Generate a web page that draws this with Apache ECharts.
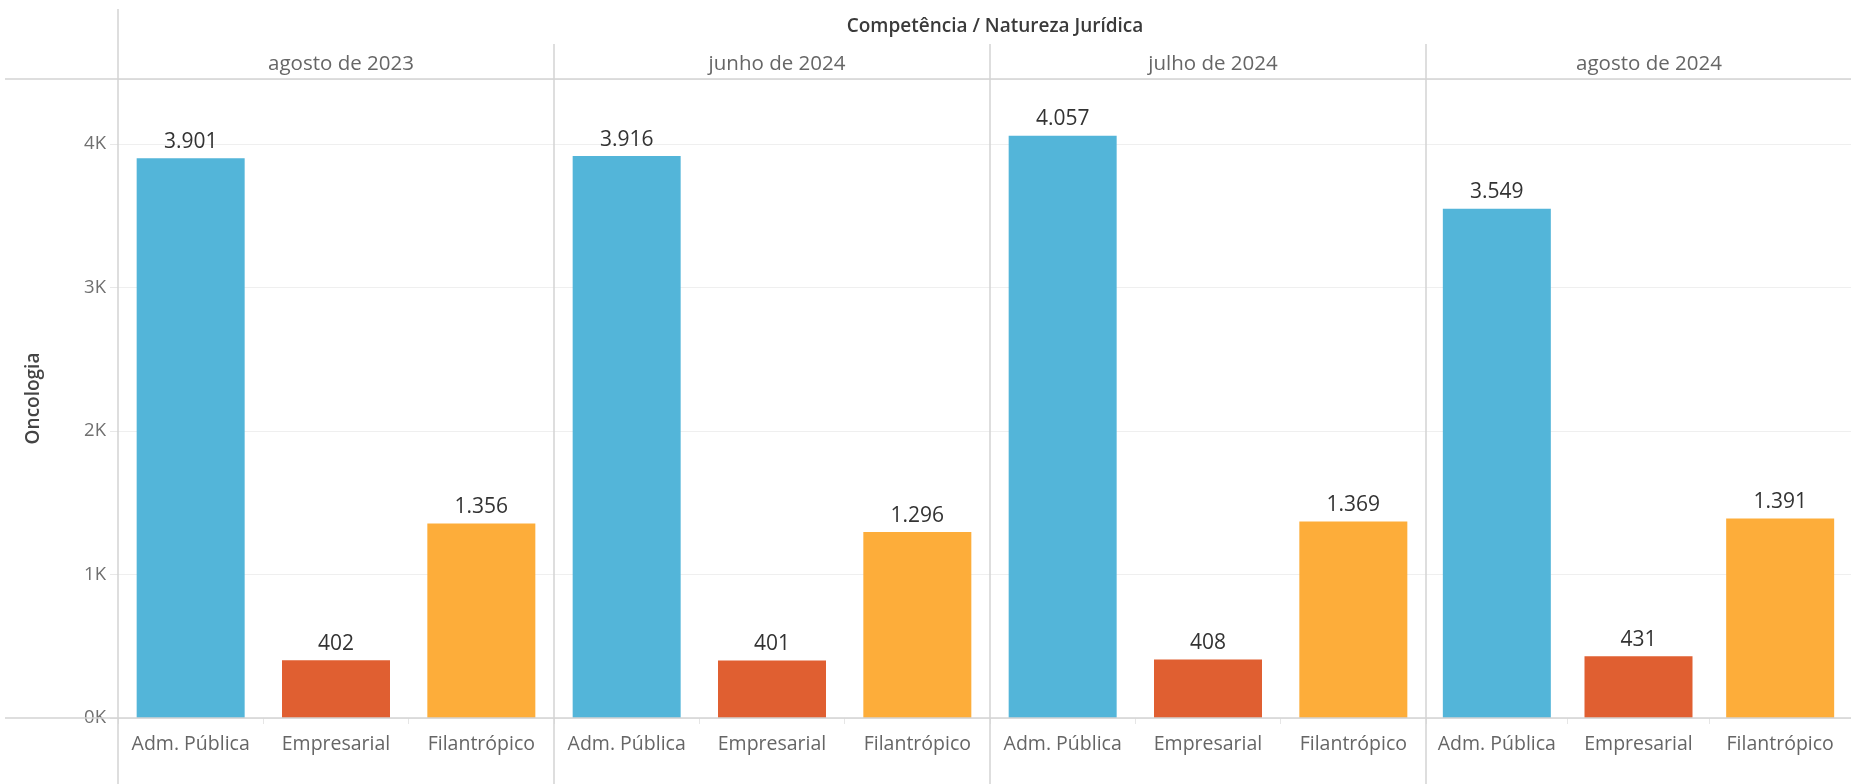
<!DOCTYPE html>
<html>
<head>
<meta charset="utf-8">
<script src="https://cdn.jsdelivr.net/npm/echarts@6/dist/echarts.min.js"></script>
<style>
html,body{margin:0;padding:0;background:#fff;}
#chart{width:1851px;height:784px;}
</style>
</head>
<body>
<div id="chart"></div>
<script>
// ---- data ----
const months = ['agosto de 2023', 'junho de 2024', 'julho de 2024', 'agosto de 2024'];
const categories = ['Adm. Pública', 'Empresarial', 'Filantrópico'];
const admPublica = [3901, 3916, 4057, 3549];
const empresarial = [402, 401, 408, 431];
const filantropico = [1356, 1296, 1369, 1391];
const yTicks = [0, 1000, 2000, 3000, 4000];
const headerTitle = 'Competência / Natureza Jurídica';
const yTitle = 'Oncologia';

// ---- style / layout ----
const colors = ['#53B5D9', '#E05F31', '#FDAD3A'];
const FONT = 'Open Sans';
const plotLeft = 118, panelW = 436, plotTop = 79, plotBottom = 718;
const yMax = 4453;
const lineColor = '#d3d3d3';

function fmtBR(v) {
  return String(Math.round(v)).replace(/\B(?=(\d{3})+(?!\d))/g, '.');
}

const chart = echarts.init(document.getElementById('chart'), null, {renderer: 'canvas'});

const grids = [], xAxes = [], yAxes = [], series = [], titles = [];
titles.push({
  text: headerTitle, left: plotLeft + panelW * 2, top: 12, textAlign: 'center',
  textStyle: {fontFamily: FONT, fontSize: 19, fontWeight: 600, color: '#3a3a3a'}
});
months.forEach((m, i) => {
  const left = plotLeft + panelW * i;
  grids.push({left: left, width: panelW, top: plotTop, height: plotBottom - plotTop, containLabel: false});
  titles.push({
    text: m, left: left + panelW / 2, top: 49, textAlign: 'center',
    textStyle: {fontFamily: FONT, fontSize: 20.5, fontWeight: 'normal', color: '#666'}
  });
  xAxes.push({
    type: 'category', gridIndex: i, data: categories,
    axisLine: {show: false},
    axisTick: {show: true, length: 6, lineStyle: {color: '#e6e6e6'}},
    axisLabel: {fontFamily: FONT, fontSize: 19.5, color: '#666', margin: 16, interval: 0}
  });
  yAxes.push({
    type: 'value', gridIndex: i, min: 0, max: yMax, interval: 1000,
    name: i === 0 ? yTitle : '',
    nameLocation: 'middle', nameGap: 75,
    nameTextStyle: {fontFamily: FONT, fontSize: 19, fontWeight: 600, color: '#444'},
    axisLine: {show: false},
    axisTick: {show: i === 0, length: 8, lineStyle: {color: '#e8e8e8'}},
    axisLabel: {
      show: i === 0, showMaxLabel: false, margin: 12,
      fontFamily: FONT, fontSize: 18.5, color: '#707070',
      formatter: v => (yTicks.indexOf(v) >= 0 ? (v / 1000) + 'K' : '')
    },
    splitLine: {show: true, lineStyle: {color: '#efefef', width: 1}}
  });
  series.push({
    type: 'bar', xAxisIndex: i, yAxisIndex: i,
    barWidth: 108,
    data: [admPublica[i], empresarial[i], filantropico[i]].map((v, k) => ({
      value: v, itemStyle: {color: colors[k]}
    })),
    label: {
      show: true, position: 'top', distance: 6,
      fontFamily: FONT, fontSize: 21, color: '#333',
      formatter: p => fmtBR(p.value)
    },
    emphasis: {disabled: true}
  });
});

const graphics = [];
function hline(y, x1, x2) {
  graphics.push({type: 'line', silent: true, z: 100,
    shape: {x1: x1, y1: y, x2: x2, y2: y}, style: {stroke: lineColor, lineWidth: 1.5}});
}
function vline(x, y1, y2) {
  graphics.push({type: 'line', silent: true, z: 100,
    shape: {x1: x, y1: y1, x2: x, y2: y2}, style: {stroke: lineColor, lineWidth: 1.5}});
}
hline(plotTop, 5, 1851);
hline(plotBottom, 5, 1851);
vline(plotLeft, 9, 784);
for (let i = 1; i < months.length; i++) vline(plotLeft + panelW * i, 44, 784);

chart.setOption({
  animation: false,
  backgroundColor: '#fff',
  title: titles,
  grid: grids,
  xAxis: xAxes,
  yAxis: yAxes,
  series: series,
  graphic: graphics
});
</script>
</body>
</html>
